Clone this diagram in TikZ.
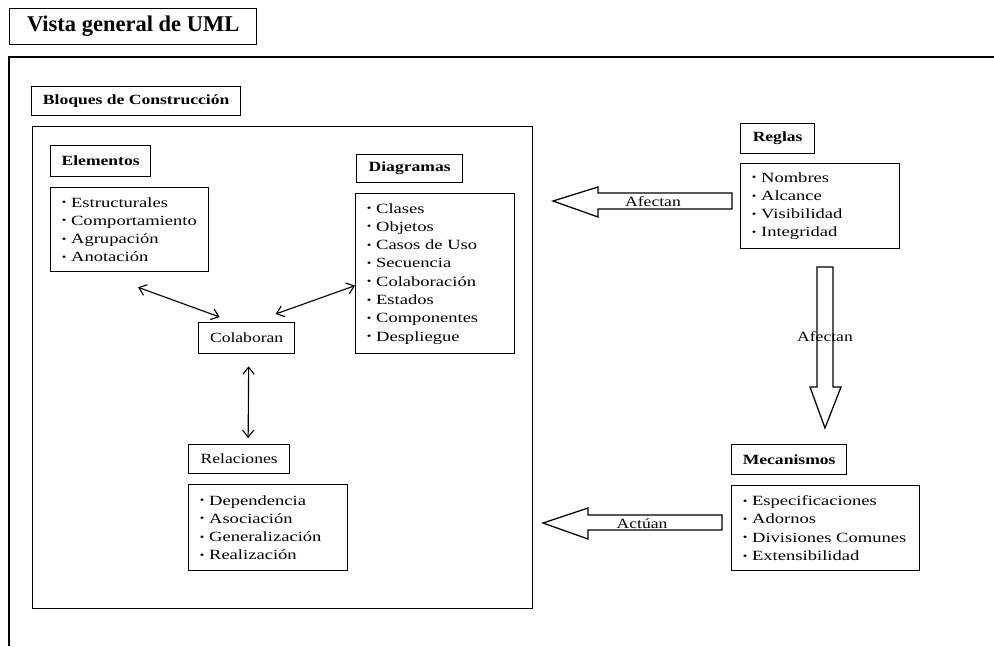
\documentclass[tikz,border=0pt]{standalone}
\usepackage{fontspec}
\setmainfont[FakeStretch=1.25]{Liberation Serif}
\newfontfamily\titlefont{Liberation Serif}
\newfontfamily\lstfont[FakeStretch=1.32]{Liberation Serif}
\usetikzlibrary{arrows.meta}

\newcommand\bul{{\fontsize{7}{7}\selectfont\raisebox{0.3ex}{\textbullet}}\ }

\begin{document}
\begin{tikzpicture}[x=0.025cm, y=-0.025cm, line width=0.9pt,
    font=\fontsize{10}{13}\selectfont,
    hdr/.style 2 args={draw, anchor=north west, inner sep=0pt, minimum width=#1, minimum height=#2},
    lst/.style 2 args={draw, anchor=north west, align=left, inner xsep=8pt, inner ysep=0pt, text width=#1, minimum height=#2, font=\lstfont\fontsize{10}{13}\selectfont},
    dbl/.style={{Straight Barb[length=5pt,width=8pt]}-{Straight Barb[length=5pt,width=8pt]}, line width=0.8pt}]
    \useasboundingbox (0,0) rectangle (994,646);
    % titulo y marco
    \node[hdr={6.175cm}{0.9cm}, font=\titlefont\bfseries\fontsize{16}{19}\selectfont] (title) at (9,8) {Vista general de UML};
    \draw (9,646) -- (9,57) -- (994,57);
    % bloques de construccion
    \node[hdr={5.225cm}{0.725cm}, font=\bfseries] (bloqtit) at (31,86) {Bloques de Construcción};
    \node[hdr={12.5cm}{12.05cm}] (bloq) at (32,126) {};
    \node[hdr={2.5cm}{0.775cm}, font=\bfseries] (elem) at (50,145) {Elementos};
    \node[lst={3.39cm}{2.1cm}] (elist) at (50,187) {\bul Estructurales\\ \bul Comportamiento\\ \bul Agrupación\\ \bul Anotación};
    \node[hdr={2.65cm}{0.7cm}, font=\bfseries] (diag) at (356,154) {Diagramas};
    \node[lst={3.415cm}{4.0cm}] (dlist) at (355,193) {\bul Clases\\ \bul Objetos\\ \bul Casos de Uso\\ \bul Secuencia\\ \bul Colaboración\\ \bul Estados\\ \bul Componentes\\ \bul Despliegue};
    \node[hdr={2.4cm}{0.775cm}] (colab) at (198,322) {Colaboran};
    \node[hdr={2.525cm}{0.725cm}] (rel) at (188,444) {Relaciones};
    \node[lst={3.415cm}{2.15cm}] (rlist) at (188,484) {\bul Dependencia\\ \bul Asociación\\ \bul Generalización\\ \bul Realización};
    \draw[dbl] ([shift={(88,15)}]elist.south west) -- ([shift={(-27,-5)}]colab.north);
    \draw[dbl] ([shift={(0,12)}]dlist.west) -- ([shift={(29,-8)}]colab.north);
    \draw[dbl] ([shift={(2,12)}]colab.south) -- ([shift={(9,-6)}]rel.north);
    % reglas y mecanismos
    \node[hdr={1.85cm}{0.75cm}, font=\bfseries] (reglas) at (740,123) {Reglas};
    \node[lst={3.415cm}{2.125cm}] (glist) at (740,163) {\bul Nombres\\ \bul Alcance\\ \bul Visibilidad\\ \bul Integridad};
    \node[hdr={2.875cm}{0.75cm}, font=\bfseries] (mec) at (731,444) {Mecanismos};
    \node[lst={4.14cm}{2.125cm}] (mlist) at (731,485) {\bul Especificaciones\\ \bul Adornos\\ \bul Divisiones Comunes\\ \bul Extensibilidad};
    % flechas gruesas
    \draw (732,193) -- (598,193) -- (598,187) -- (553,201) -- (598,217) -- (598,209) -- (732,209) -- cycle;
    \node (af1) at (653,202) {Afectan};
    \draw (817,267) -- (833,267) -- (833,387) -- (841,387) -- (825,428) -- (810,387) -- (817,387) -- cycle;
    \node (af2) at (825,337) {Afectan};
    \draw (722,515) -- (588,515) -- (588,508) -- (543,523) -- (588,539) -- (588,530) -- (722,530) -- cycle;
    \node (act) at (642,524) {Actúan};
\end{tikzpicture}
\end{document}
